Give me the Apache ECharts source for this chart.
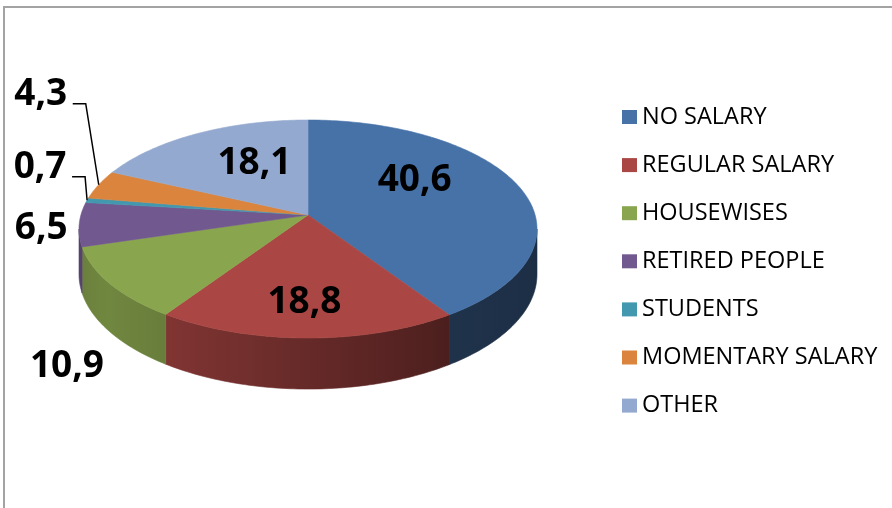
<!DOCTYPE html>
<html>
<head>
<meta charset="utf-8">
<script src="https://cdn.jsdelivr.net/npm/echarts@6/dist/echarts.min.js"></script>
<style>
  html, body { margin: 0; padding: 0; background: #fff; }
  #main { width: 892px; height: 508px; }
</style>
</head>
<body>
<div id="main"></div>
<script>
const categories = [
  "NO SALARY",
  "REGULAR SALARY",
  "HOUSEWISES",
  "RETIRED PEOPLE",
  "STUDENTS",
  "MOMENTARY SALARY",
  "OTHER"
];
const shares = [40.6, 18.8, 10.9, 6.5, 0.7, 4.3, 18.1];
const colors = ["#4672A8", "#AA4643", "#89A54E", "#71588F", "#4198AF", "#DB843D", "#93A9CF"];

// where each value label sits: radial fraction of the slice + small nudge, leader line or not
const labelSpots = [
  { r: 0.5, dx: 0, dy: -21 },
  { r: 0.72, dx: -3, dy: 0 },
  { r: 1, dx: -43, dy: 81 },
  { r: 1, dx: -38, dy: 2 },
  { r: 1, dx: -47, dy: -34.5, leader: true },
  { r: 1, dx: -58, dy: -92, leader: true },
  { r: 0.5, dx: 4.5, dy: -10.5 }
];

// tilted disc with a bit of perspective (looks like the excel 3-D pie)
const PIE = { cx: 308, cy: 215, a: 227.1, b: 107.2, persp: 0.1285, depth: 44.5 };
// brightness of the side wall by angle (deg, clockwise from 12 o'clock)
const SHADE = [[97, 0.40], [146, 0.44], [214, 0.76], [235, 0.82], [263, 0.74]];

const total = shares.reduce((a, b) => a + b, 0);
const starts = shares.map((v, i) => shares.slice(0, i).reduce((a, b) => a + b, 0));
const labels = shares.map(v => v.toFixed(1).replace(".", ","));

function project(theta, r) {
  const sx = Math.sin(theta) * r;
  const sy = -Math.cos(theta) * r; // > 0 means towards the viewer
  const s = 1 / (1 - PIE.persp * sy);
  return [PIE.cx + PIE.a * sx * s, PIE.cy + PIE.b * sy * s, s];
}

function arcSteps(t1, t2) {
  const n = Math.max(2, Math.ceil((t2 - t1) / (Math.PI / 180)));
  const out = [];
  for (let k = 0; k <= n; k++) out.push(t1 + (t2 - t1) * k / n);
  return out;
}

function shadeAt(deg) {
  if (deg <= SHADE[0][0]) return SHADE[0][1];
  for (let k = 1; k < SHADE.length; k++) {
    if (deg <= SHADE[k][0]) {
      const [d0, v0] = SHADE[k - 1], [d1, v1] = SHADE[k];
      return v0 + (v1 - v0) * (deg - d0) / (d1 - d0);
    }
  }
  return SHADE[SHADE.length - 1][1];
}

function darken(hex, k) {
  const n = parseInt(hex.slice(1), 16);
  const r = Math.round(((n >> 16) & 255) * k);
  const g = Math.round(((n >> 8) & 255) * k);
  const b = Math.round((n & 255) * k);
  return `rgb(${r},${g},${b})`;
}

function renderSlice(params, api) {
  const i = params.seriesIndex;
  const color = colors[i];
  const t1 = api.value(0) / total * 2 * Math.PI;
  const t2 = (api.value(0) + api.value(1)) / total * 2 * Math.PI;
  const children = [];

  // side wall, only the front half of the rim is visible
  const lo = Math.acos(-PIE.persp), hi = 2 * Math.PI - lo;
  const w1 = Math.max(t1, lo), w2 = Math.min(t2, hi);
  if (w2 > w1) {
    const rim = arcSteps(w1, w2).map(t => project(t, 1));
    const wall = rim.map(p => [p[0], p[1]])
      .concat(rim.slice().reverse().map(p => [p[0], p[1] + PIE.depth * p[2]]));
    const xs = rim.map(p => p[0]);
    const xL = Math.min(...xs), xR = Math.max(...xs);
    const stops = [];
    for (let k = 0; k <= 8; k++) {
      const t = w1 + (w2 - w1) * k / 8;
      const p = project(t, 1);
      stops.push({
        offset: xR > xL ? (p[0] - xL) / (xR - xL) : 0,
        color: darken(color, shadeAt(t * 180 / Math.PI))
      });
    }
    stops.sort((a, b) => a.offset - b.offset);
    const grad = { type: "linear", x: xL, y: 0, x2: xR, y2: 0, global: true, colorStops: stops };
    children.push({
      type: "polygon", z2: 1,
      shape: { points: wall },
      style: { fill: grad, stroke: grad, lineWidth: 0.6 }
    });
  }

  // top face
  const top = [[PIE.cx, PIE.cy]].concat(arcSteps(t1, t2).map(t => project(t, 1).slice(0, 2)));
  children.push({
    type: "polygon", z2: 5,
    shape: { points: top },
    style: { fill: color, stroke: color, lineWidth: 0.6 }
  });

  // value label
  const mid = (t1 + t2) / 2;
  const spot = labelSpots[i];
  const a = project(mid, spot.r);
  const lx = a[0] + spot.dx, ly = a[1] + spot.dy;
  children.push({
    type: "text", z2: 10,
    style: {
      text: labels[i], x: lx, y: ly + 2,
      align: "center", verticalAlign: "middle",
      font: 'bold 37px "Open Sans"', fill: "#000"
    }
  });
  if (spot.leader) {
    const rimPt = project(mid, 1);
    children.push({
      type: "polyline", z2: 9,
      shape: { points: [[lx + 32, ly + 11], [lx + 45, ly + 11], [rimPt[0], rimPt[1]]] },
      style: { stroke: "#000", lineWidth: 1.5, fill: null }
    });
  }
  return { type: "group", children };
}

const chart = echarts.init(document.getElementById("main"), null, { renderer: "canvas" });

const option = {
  animation: false,
  graphic: [{
    type: "rect",
    shape: { x: 4, y: 7, width: 1000, height: 1000 },
    style: { fill: "none", stroke: "#A3A3A3", lineWidth: 2 },
    silent: true
  }],
  legend: {
    orient: "vertical",
    left: 622,
    top: 105,
    padding: 0,
    icon: "rect",
    itemWidth: 15,
    itemHeight: 14,
    itemGap: 24.1,
    data: categories,
    textStyle: { fontFamily: "Open Sans", fontSize: 23.5, lineHeight: 24, color: "#000" }
  },
  series: categories.map((name, i) => ({
    type: "custom",
    name: name,
    coordinateSystem: "none",
    silent: true,
    itemStyle: { color: colors[i] },
    data: [[starts[i], shares[i]]],
    renderItem: renderSlice
  }))
};

chart.setOption(option);
</script>
</body>
</html>
